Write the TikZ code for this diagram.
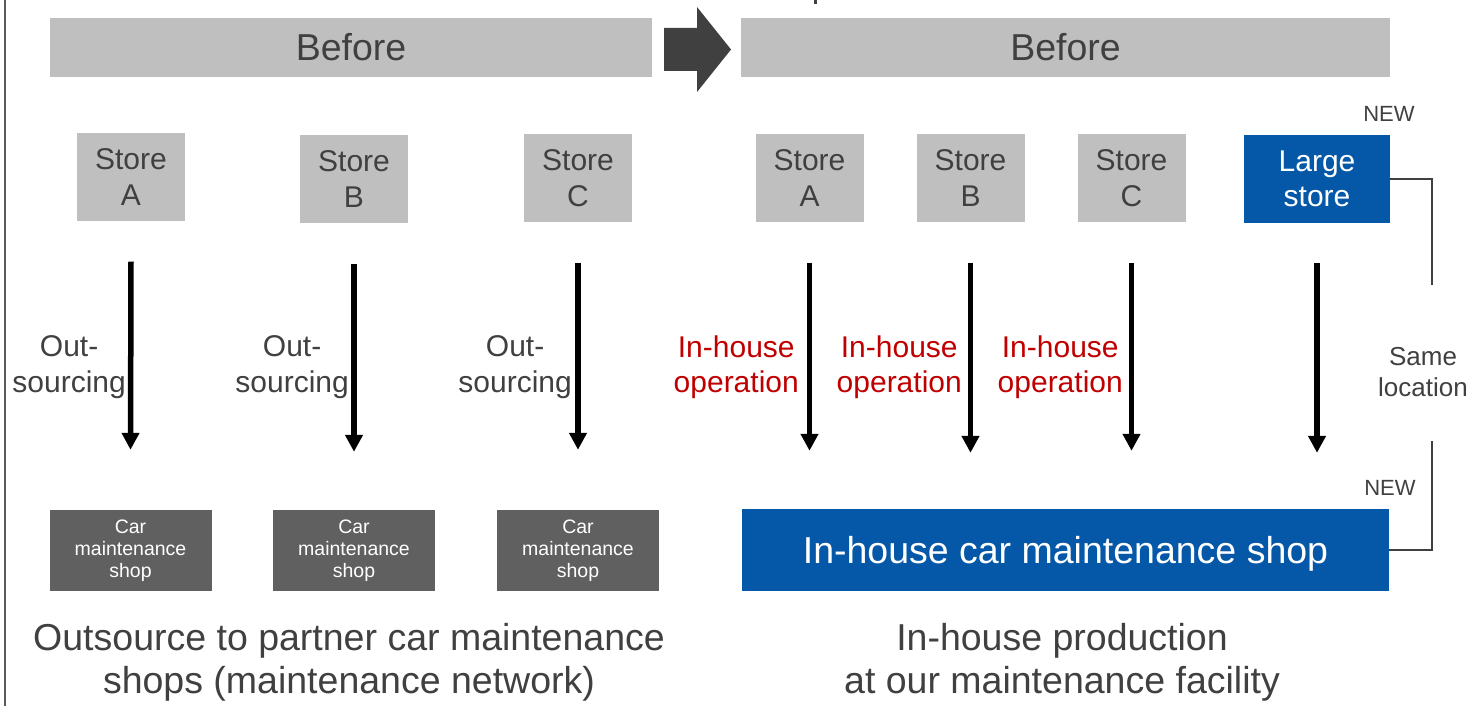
\documentclass[tikz,border=0pt]{standalone}
\usepackage{fontspec}
\setmainfont{Liberation Sans}
\usetikzlibrary{arrows.meta,calc}

\definecolor{boxgray}{HTML}{BFBFBF}
\definecolor{inkgray}{HTML}{404040}
\definecolor{shopgray}{HTML}{606060}
\definecolor{navy}{HTML}{0558A8}
\definecolor{deepred}{HTML}{C00000}
\definecolor{rulegray}{HTML}{595959}

\newcommand\fsz[2]{\fontsize{#1}{#2}\selectfont}

\tikzset{
  header/.style={fill=boxgray, inner sep=0pt, minimum width=#1, minimum height=59pt,
    text=inkgray, font=\fsz{37.5}{43}},
  store/.style={fill=boxgray, inner sep=0pt, minimum width=108pt, minimum height=87pt,
    text=inkgray, align=center, font=\fsz{30}{35.5}},
  newstore/.style={store, fill=navy, text=white, minimum width=146pt, minimum height=88pt},
  shop/.style={fill=shopgray, inner sep=0pt, minimum width=162pt, minimum height=81pt,
    text=white, align=center, font=\fsz{19.5}{22}},
  bigshop/.style={fill=navy, inner sep=0pt, minimum width=647pt, minimum height=82pt,
    text=white, font=\fsz{37.5}{43}, text depth=0pt},
  flow/.style={line width=5.5pt, -{Triangle[width=17pt,length=17pt]}},
  outlbl/.style={inner sep=0pt, anchor=east, align=center, text=inkgray, font=\fsz{30}{35.5}},
  inlbl/.style={outlbl, text=deepred},
  tag/.style={inner sep=0pt, text=inkgray, font=\fsz{22}{26}},
  caption/.style={inner sep=0pt, anchor=north, align=center, text=inkgray, font=\fsz{37.5}{43}},
  bracket/.style={draw=inkgray, line width=1.5pt},
}

\begin{document}
\begin{tikzpicture}[x=1pt, y=-1pt]
  % canvas
  \fill[white] (0,0) rectangle (1472,706);
  \useasboundingbox (0,0) rectangle (1472,706);

  % left rule and the clipped glyph at the top edge
  \draw[rulegray, line width=2.5pt] (5,0) -- (5,706);
  \fill[inkgray] (814,0) rectangle (817,4.5);

  % headers and the transition arrow
  \node[header=602pt] (hl) at (351,47.5) {Before};
  \node[header=649pt] (hr) at (1065.5,47.5) {Before};
  \fill[inkgray] (664,28) -- (697,28) -- (697,7) -- (731,49.5)
    -- (697,92) -- (697,71) -- (664,71) -- cycle;

  % stores, left side
  \node[store] (sa) at (131,177) {Store\\A};
  \node[store] (sb) at (354,179) {Store\\B};
  \node[store] (sc) at (578,178) {Store\\C};

  % stores, right side
  \node[store] (ra) at (809.5,178) {Store\\A};
  \node[store] (rb) at (970.5,178) {Store\\B};
  \node[store] (rc) at (1131.5,178) {Store\\C};
  \node[newstore] (lg) at (1317,179) {Large\\store};
  \node[tag] (new1) at (1389,114) {NEW};

  % partner shops
  \node[shop] (ma) at (130.5,550.5) {Car\\maintenance\\shop};
  \node[shop] (mb) at (354,550.5) {Car\\maintenance\\shop};
  \node[shop] (mc) at (578,550.5) {Car\\maintenance\\shop};

  % in-house shop
  \node[bigshop] (big) at (1065.5,550) {In-house car maintenance shop};
  \node[tag] (new2) at (1390,488) {NEW};

  % flows, left side
  \draw[flow] ([yshift=-41pt]sa.south) -- ([yshift=60pt]ma.north);
  \draw[flow] ([yshift=-41pt]sb.south) -- ([yshift=58pt]mb.north);
  \draw[flow] ([yshift=-41pt]sc.south) -- ([yshift=60pt]mc.north);

  % flows, right side
  \coordinate (fend) at ([yshift=58pt]big.north);
  \draw[flow] ([yshift=-41pt]ra.south) -- (ra.south |- fend);
  \draw[flow] ([yshift=-41pt]rb.south) -- ([yshift=-2pt]rb.south |- fend);
  \draw[flow] ([yshift=-41pt]rc.south) -- (rc.south |- fend);
  \draw[flow] ([yshift=-40pt]lg.south) -- ([yshift=-2pt]lg.south |- fend);

  % flow labels
  \node[outlbl] (oa) at (126,367) {Out-\\sourcing};
  \node[outlbl] (ob) at (349,367) {Out-\\sourcing};
  \node[outlbl] (oc) at (572,367) {Out-\\sourcing};
  \node[inlbl] (ia) at (799,367) {In-house\\operation};
  \node[inlbl] (ib) at (962,367) {In-house\\operation};
  \node[inlbl] (ic) at (1123,367) {In-house\\operation};

  % same-location bracket
  \coordinate (brtop) at (1432,285);
  \coordinate (brbot) at (1432,441);
  \draw[bracket] (lg.east) -| (brtop);
  \draw[bracket] (big.east) -| (brbot);
  \node[tag, align=center, font=\fsz{26}{31}] (same) at (1423,372) {Same\\location};

  % captions
  \node[caption] (capl) at (349,623) {Outsource to partner car maintenance\\shops (maintenance network)};
  \node[caption] (capr) at (1062,623) {In-house production\\at our maintenance facility};
\end{tikzpicture}
\end{document}
